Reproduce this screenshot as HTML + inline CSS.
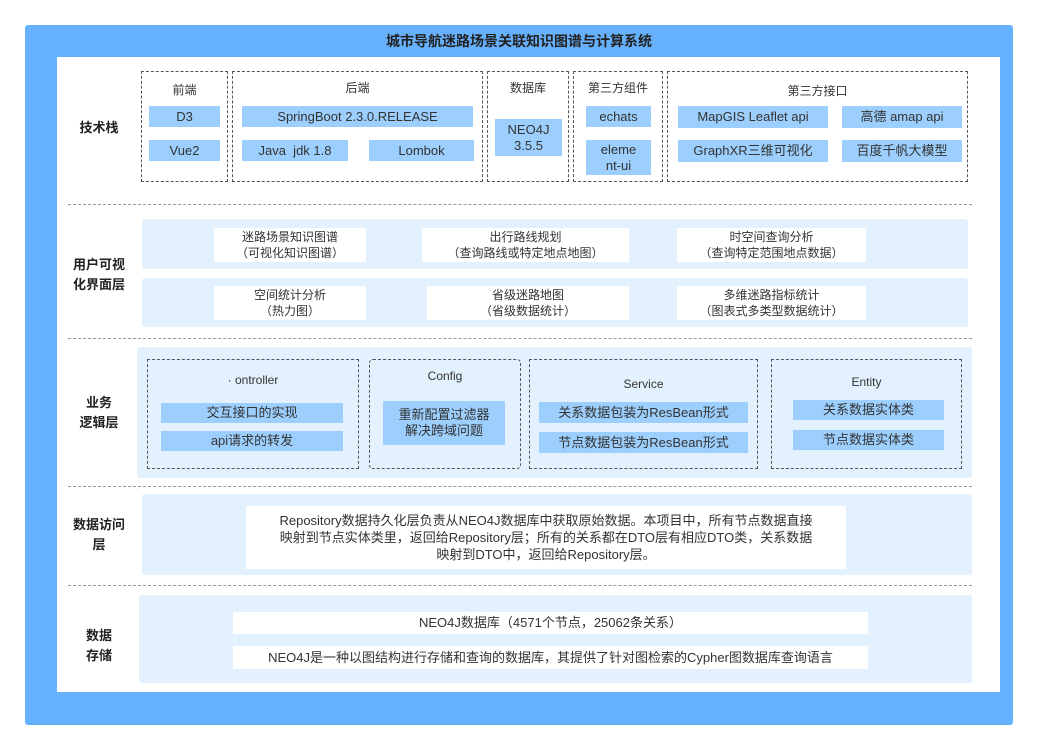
<!DOCTYPE html>
<html><head><meta charset="utf-8"><style>
body{margin:0;width:1037px;height:751px;background:#fff;position:relative;font-family:"Liberation Sans","Noto Sans CJK SC",sans-serif;overflow:hidden}
div{position:absolute;box-sizing:border-box}
.c{display:flex;align-items:center;justify-content:center;text-align:center;color:#333;font-size:13px;line-height:16px}
.b{background:#9ccffd}
.w{background:#fff}
.p{background:#e3f0fd;border-radius:3px}
.d{border:1px dashed #555}
.l{font-weight:bold;font-size:13px;color:#222;line-height:20px}
.s{left:68px;width:904px;height:0;border-top:1px dashed #999}
.h{font-size:12px}
</style></head><body>
<div style="left:25px;top:25px;width:988px;height:700px;background:#66b1fd;border-radius:3px"></div>
<div class="c" style="left:25px;top:28px;width:988px;height:26px;font-weight:bold;font-size:14px;color:#222">城市导航迷路场景关联知识图谱与计算系统</div>
<div style="left:57px;top:57px;width:943px;height:635px;background:#fff"></div>

<div class="s" style="top:204px"></div><div class="s" style="top:338px"></div><div class="s" style="top:486px"></div><div class="s" style="top:585px"></div>

<div class="c l" style="left:64px;top:116px;width:70px;height:24px">技术栈</div>
<div class="c l" style="left:64px;top:255px;width:70px;height:40px">用户可视<br>化界面层</div>
<div class="c l" style="left:64px;top:393px;width:70px;height:40px">业务<br>逻辑层</div>
<div class="c l" style="left:64px;top:515px;width:70px;height:40px">数据访问<br>层</div>
<div class="c l" style="left:64px;top:626px;width:70px;height:40px">数据<br>存储</div>

<!-- tech stack -->
<div class="d" style="left:141px;top:71px;width:87px;height:111px"></div>
<div class="d" style="left:232px;top:71px;width:251px;height:111px"></div>
<div class="d" style="left:487px;top:71px;width:82px;height:111px"></div>
<div class="d" style="left:573px;top:71px;width:90px;height:111px"></div>
<div class="d" style="left:667px;top:71px;width:301px;height:111px"></div>
<div class="c h" style="left:141px;top:82px;width:87px;height:16px">前端</div>
<div class="c h" style="left:232px;top:80px;width:251px;height:16px">后端</div>
<div class="c h" style="left:487px;top:80px;width:82px;height:16px">数据库</div>
<div class="c h" style="left:573px;top:80px;width:90px;height:16px">第三方组件</div>
<div class="c h" style="left:667px;top:83px;width:301px;height:16px">第三方接口</div>
<div class="c b" style="left:149px;top:106px;width:71px;height:21px">D3</div>
<div class="c b" style="left:149px;top:140px;width:71px;height:21px">Vue2</div>
<div class="c b" style="left:242px;top:106px;width:231px;height:21px">SpringBoot 2.3.0.RELEASE</div>
<div class="c b" style="left:242px;top:140px;width:106px;height:21px">Java&nbsp; jdk 1.8</div>
<div class="c b" style="left:369px;top:140px;width:105px;height:21px">Lombok</div>
<div class="c b" style="left:495px;top:119px;width:67px;height:37px">NEO4J<br>3.5.5</div>
<div class="c b" style="left:586px;top:106px;width:65px;height:21px">echats</div>
<div class="c b" style="left:586px;top:140px;width:65px;height:35px">eleme<br>nt-ui</div>
<div class="c b" style="left:678px;top:106px;width:150px;height:22px">MapGIS Leaflet api</div>
<div class="c b" style="left:842px;top:106px;width:120px;height:22px">高德 amap api</div>
<div class="c b" style="left:678px;top:140px;width:150px;height:22px">GraphXR三维可视化</div>
<div class="c b" style="left:842px;top:140px;width:120px;height:22px">百度千帆大模型</div>

<!-- user layer -->
<div class="p" style="left:142px;top:219px;width:826px;height:50px"></div>
<div class="p" style="left:142px;top:278px;width:826px;height:49px"></div>
<div class="c w h" style="left:214px;top:228px;width:152px;height:34px">迷路场景知识图谱<br>（可视化知识图谱）</div>
<div class="c w h" style="left:422px;top:228px;width:207px;height:34px">出行路线规划<br>（查询路线或特定地点地图）</div>
<div class="c w h" style="left:677px;top:228px;width:189px;height:34px">时空间查询分析<br>（查询特定范围地点数据）</div>
<div class="c w h" style="left:214px;top:286px;width:152px;height:34px">空间统计分析<br>（热力图）</div>
<div class="c w h" style="left:427px;top:286px;width:202px;height:34px">省级迷路地图<br>（省级数据统计）</div>
<div class="c w h" style="left:677px;top:286px;width:189px;height:34px">多维迷路指标统计<br>（图表式多类型数据统计）</div>

<!-- business -->
<div class="p" style="left:137px;top:347px;width:835px;height:131px"></div>
<div class="d" style="left:147px;top:359px;width:212px;height:110px"></div>
<div class="d" style="left:369px;top:359px;width:152px;height:110px;border-radius:4px"></div>
<div class="d" style="left:529px;top:359px;width:229px;height:110px"></div>
<div class="d" style="left:771px;top:359px;width:191px;height:110px"></div>
<div class="c h" style="left:147px;top:372px;width:212px;height:16px">· ontroller</div>
<div class="c h" style="left:369px;top:368px;width:152px;height:16px">Config</div>
<div class="c h" style="left:529px;top:376px;width:229px;height:16px">Service</div>
<div class="c h" style="left:771px;top:374px;width:191px;height:16px">Entity</div>
<div class="c b" style="left:161px;top:403px;width:182px;height:20px">交互接口的实现</div>
<div class="c b" style="left:161px;top:431px;width:182px;height:20px">api请求的转发</div>
<div class="c b" style="left:383px;top:401px;width:122px;height:44px">重新配置过滤器<br>解决跨域问题</div>
<div class="c b" style="left:539px;top:402px;width:209px;height:21px">关系数据包装为ResBean形式</div>
<div class="c b" style="left:539px;top:432px;width:209px;height:21px">节点数据包装为ResBean形式</div>
<div class="c b" style="left:793px;top:400px;width:151px;height:20px">关系数据实体类</div>
<div class="c b" style="left:793px;top:430px;width:151px;height:20px">节点数据实体类</div>

<!-- data access -->
<div class="p" style="left:142px;top:494px;width:830px;height:81px"></div>
<div class="c w" style="left:246px;top:506px;width:600px;height:63px;line-height:17px;white-space:nowrap">Repository数据持久化层负责从NEO4J数据库中获取原始数据。本项目中，所有节点数据直接<br>映射到节点实体类里，返回给Repository层；所有的关系都在DTO层有相应DTO类，关系数据<br>映射到DTO中，返回给Repository层。</div>

<!-- storage -->
<div class="p" style="left:139px;top:595px;width:833px;height:88px"></div>
<div class="c w" style="left:233px;top:612px;width:635px;height:22px">NEO4J数据库（4571个节点，25062条关系）</div>
<div class="c w" style="left:233px;top:646px;width:635px;height:23px">NEO4J是一种以图结构进行存储和查询的数据库，其提供了针对图检索的Cypher图数据库查询语言</div>
</body></html>
